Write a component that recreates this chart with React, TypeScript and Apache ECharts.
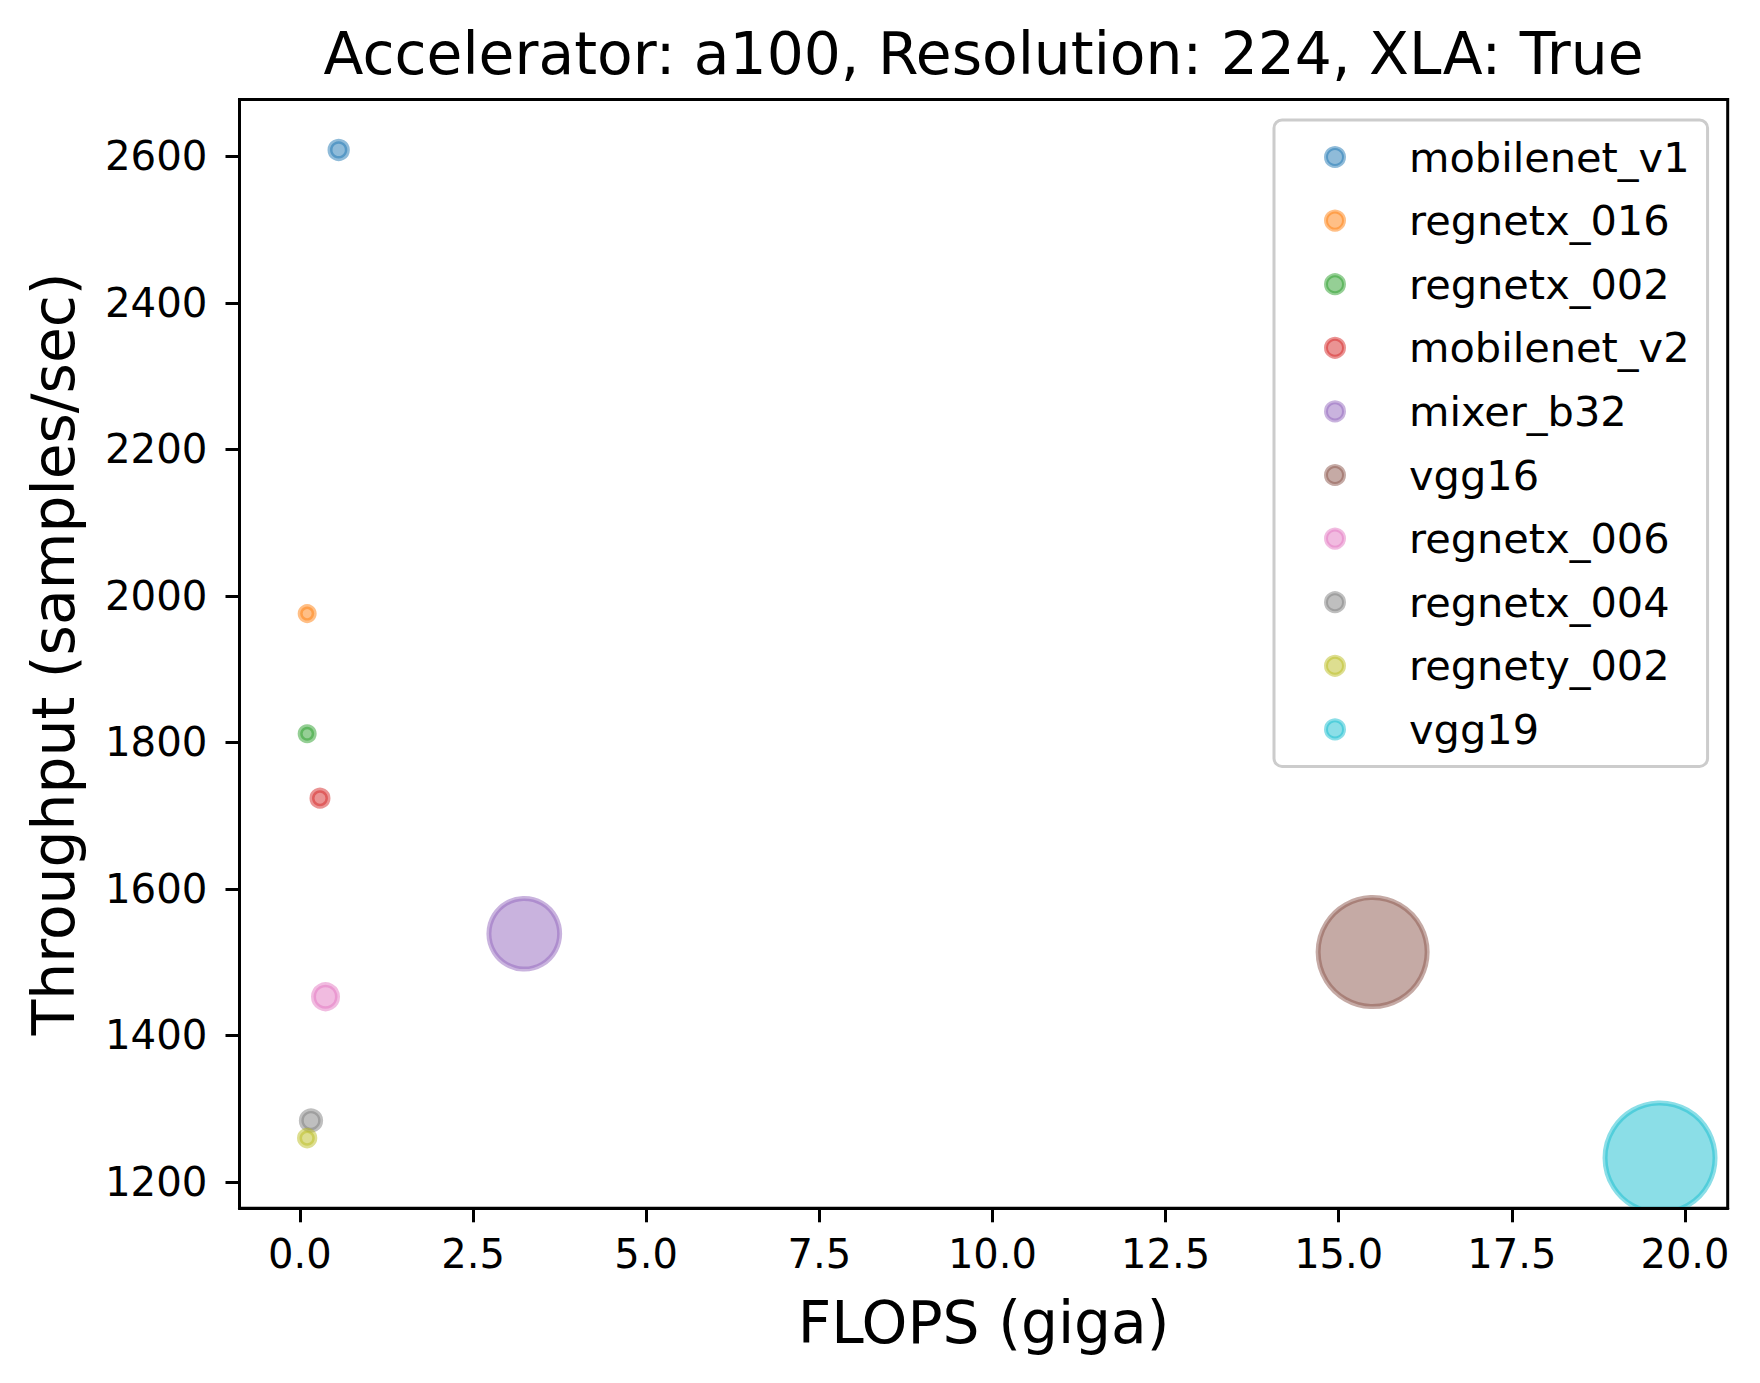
import React, { useEffect, useRef } from "react";
import * as echarts from "echarts";

const models = [
  "mobilenet_v1",
  "regnetx_016",
  "regnetx_002",
  "mobilenet_v2",
  "mixer_b32",
  "vgg16",
  "regnetx_006",
  "regnetx_004",
  "regnety_002",
  "vgg19",
];
const flopsGiga = [0.56, 0.105, 0.105, 0.29, 3.24, 15.49, 0.37, 0.16, 0.105, 19.64];
const throughput = [2609, 1976, 1812, 1724, 1539, 1514, 1453, 1284, 1260, 1233];
const markerSizes = [17.3, 14, 14, 16, 70.7, 109, 24, 19.3, 15.3, 110];
const palette = [
  "#1f77b4",
  "#ff7f0e",
  "#2ca02c",
  "#d62728",
  "#9467bd",
  "#8c564b",
  "#e377c2",
  "#7f7f7f",
  "#bcbd22",
  "#17becf",
];
const xTicks = [0, 2.5, 5, 7.5, 10, 12.5, 15, 17.5, 20];
const yTicks = [1200, 1400, 1600, 1800, 2000, 2200, 2400, 2600];

const FONT = "DejaVu Sans";

function rgba(hex: string, a: number): string {
  const n = parseInt(hex.slice(1), 16);
  return `rgba(${(n >> 16) & 255},${(n >> 8) & 255},${n & 255},${a})`;
}

export default function App() {
  const ref = useRef<HTMLDivElement>(null);
  useEffect(() => {
    document.body.style.margin = "0";
    if (!ref.current) return;
    const chart = echarts.init(ref.current, undefined, { renderer: "svg" });
    const series = models.map((name, i) => ({
      type: "custom",
      name,
      clip: true,
      data: [[flopsGiga[i], throughput[i], markerSizes[i]]],
      encode: { x: 0, y: 1 },
      renderItem: (_params: any, api: any) => {
        const p = api.coord([api.value(0), api.value(1)]);
        const r = api.value(2) / 2;
        return {
          type: "circle",
          shape: { cx: p[0], cy: p[1], r },
          style: {
            fill: rgba(palette[i], 0.5),
            stroke: rgba(palette[i], 0.5),
            lineWidth: 5,
          },
        };
      },
      z: 2,
    }));
    chart.setOption({
      animation: false,
      backgroundColor: "#ffffff",
      title: {
        text: "Accelerator: a100, Resolution: 224, XLA: True",
        left: 983.6,
        top: 25,
        textAlign: "center",
        padding: 0,
        textStyle: { fontFamily: FONT, fontSize: 58.3, fontWeight: "normal", color: "#000" },
      },
      legend: {
        orient: "vertical",
        left: 1274,
        top: 120,
        padding: [16, 18, 16, 50],
        itemGap: 21.6,
        itemWidth: 18,
        itemHeight: 18,
        backgroundColor: "rgba(255,255,255,0.8)",
        borderColor: "#cccccc",
        borderWidth: 3,
        borderRadius: 8,
        selectedMode: false,
        textStyle: {
          fontFamily: FONT,
          fontSize: 41.5,
          lineHeight: 41.5,
          color: "#000",
          padding: [0, 0, 0, 60],
        },
        data: models.map((name, i) => ({
          name,
          icon: "circle",
          itemStyle: {
            color: rgba(palette[i], 0.5),
            borderColor: rgba(palette[i], 0.5),
            borderWidth: 4,
          },
        })),
      },
      grid: {
        left: 239.5,
        right: 32.3,
        top: 99.5,
        bottom: 174.7,
        show: true,
        borderColor: "#000",
        borderWidth: 3,
        backgroundColor: "transparent",
      },
      xAxis: {
        type: "value",
        min: -0.872,
        max: 20.617,
        z: 10,
        name: "FLOPS (giga)",
        nameLocation: "middle",
        nameGap: 85.5,
        nameTextStyle: { fontFamily: FONT, fontSize: 58.3, color: "#000" },
        axisLine: { show: true, onZero: false, lineStyle: { color: "#000", width: 3 } },
        axisTick: {
          show: true,
          inside: false,
          length: 14,
          lineStyle: { color: "#000", width: 3 },
          customValues: xTicks,
        },
        axisLabel: {
          show: true,
          margin: 26,
          fontFamily: FONT,
          fontSize: 40,
          color: "#000",
          customValues: xTicks,
          formatter: (v: number) => v.toFixed(1),
        },
        splitLine: { show: false },
      },
      yAxis: {
        type: "value",
        min: 1164.2,
        max: 2677.8,
        z: 10,
        name: "Throughput (samples/sec)",
        nameLocation: "middle",
        nameGap: 157,
        nameTextStyle: { fontFamily: FONT, fontSize: 58.3, color: "#000" },
        axisLine: { show: true, onZero: false, lineStyle: { color: "#000", width: 3 } },
        axisTick: {
          show: true,
          inside: false,
          length: 14,
          lineStyle: { color: "#000", width: 3 },
          customValues: yTicks,
        },
        axisLabel: {
          show: true,
          margin: 32,
          fontFamily: FONT,
          fontSize: 40.3,
          color: "#000",
          customValues: yTicks,
          formatter: (v: number) => String(v),
        },
        splitLine: { show: false },
      },
      series,
    });
    return () => chart.dispose();
  }, []);
  return <div ref={ref} style={{ width: 1760, height: 1383 }} />;
}
